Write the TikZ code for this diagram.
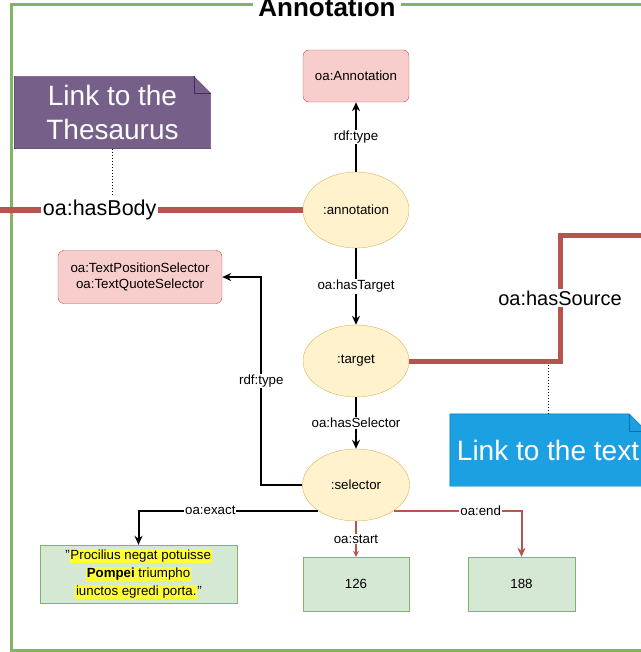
\documentclass[tikz,border=0pt]{standalone}
\usepackage{fontspec}
\setmainfont{Liberation Sans}
\usetikzlibrary{shapes.geometric,arrows.meta,backgrounds}

\definecolor{clsfill}{HTML}{F8CECC}
\definecolor{clsline}{HTML}{B85450}
\definecolor{resfill}{HTML}{FFF2CC}
\definecolor{resline}{HTML}{D6B656}
\definecolor{litfill}{HTML}{D5E8D4}
\definecolor{litline}{HTML}{82B366}
\definecolor{linkred}{HTML}{B85450}
\definecolor{thesfill}{HTML}{76608A}
\definecolor{thesline}{HTML}{432D57}
\definecolor{textfill}{HTML}{1BA1E2}
\definecolor{textline}{HTML}{006EAF}
\definecolor{hilite}{HTML}{FFFF33}
\setlength{\fboxsep}{0.8pt}

\begin{document}
\begin{tikzpicture}
  [x=1pt,y=-1pt,>={Stealth[length=9pt,width=8pt]},
   every node/.style={font=\fontsize{13.3}{16}\selectfont},
   cls/.style={draw=clsline, fill=clsfill, rounded corners=6pt, minimum width=106pt, minimum height=52pt, align=center},
   res/.style={ellipse, draw=resline, fill=resfill, minimum width=106pt, minimum height=72pt, inner sep=0pt},
   lit/.style={draw=litline, fill=litfill, minimum width=106pt, minimum height=54pt, align=center},
   lbl/.style={fill=white, inner sep=1pt},
   rel/.style={draw=black, line width=2pt, ->},
   redrel/.style={draw=linkred, line width=2pt, ->},
   link/.style={draw=linkred, line width=5pt},
   biglbl/.style={fill=white, inner sep=2pt},
   note/.style={text=white, minimum width=196pt, minimum height=72pt, align=center, font=\fontsize{28}{34}\selectfont}]
  \useasboundingbox (0,0) rectangle (640,652);

  % frame of the annotation
  \draw[litline, line width=3pt] (11,5) rectangle (660,650);
  \node[fill=white, inner xsep=5pt, inner ysep=1pt, font=\bfseries\fontsize{26}{30}\selectfont] (title) at (327,7) {Annotation};

  \node[cls] (anntype) at (356,76) {oa:Annotation};
  \node[res, minimum height=76pt] (ann) at (356,210) {:annotation};
  \node[res] (tgt) at (356,361) {:target};
  \node[res, minimum width=107pt] (sel) at (356,485) {:selector};
  \node[cls, minimum width=164pt, minimum height=53pt] (seltype) at (140,277) {oa:TextPositionSelector\\oa:TextQuoteSelector};

  \node[lit, minimum width=197pt, minimum height=58pt, font=\fontsize{13.3}{18}\selectfont] (quote) at (138.5,574)
    {"\colorbox{hilite}{Procilius negat potuisse}\\\colorbox{hilite}{\textbf{Pompei} triumpho}\\\colorbox{hilite}{iunctos egredi porta.}"};
  \node[lit] (startval) at (356,584) {126};
  \node[lit, minimum width=107pt] (endval) at (521.5,584) {188};

  \foreach \from/\to/\lab in {ann/anntype/rdf:type, ann/tgt/oa:hasTarget, tgt/sel/oa:hasSelector}
    \draw[rel] (\from) -- node[lbl] {\lab} (\to);

  \draw[rel] (sel.west) -- ++(-41,0) |- node[lbl, pos=.25] {rdf:type} (seltype.east);
  \draw[rel] (sel.south west) -| node[lbl, pos=.3] {oa:exact} (quote.north);
  \draw[redrel, line width=1.3pt, -{Stealth[length=6pt,width=6pt]}] (sel.south) -- node[lbl] {oa:start} (startval.north);
  \draw[redrel] (sel.south east) -| node[lbl, pos=.34] {oa:end} (endval.north);

  % links leaving the annotation
  \coordinate (bodyend) at (-5,210);
  \coordinate (srcbend) at (560,235);
  \coordinate (srcend) at (660,235);
  \coordinate (srcmid) at (548,363);
  \draw[link] (bodyend) -- node[biglbl, pos=.34, font=\fontsize{21.5}{24}\selectfont] (bodylbl) {oa:hasBody} (ann.west);
  \draw[link] (tgt.east) -| node[biglbl, pos=.75, font=\fontsize{20}{24}\selectfont] (srclbl) {oa:hasSource} (srcbend) -- (srcend);

  \node[note] (thes) at (112.5,112.5) {Link to the\\Thesaurus};
  \node[note] (textnote) at (548,450) {Link to the text};
  \begin{scope}[on background layer]
    \foreach \n/\fc/\lc in {thes/thesfill/thesline, textnote/textfill/textline} {
      \filldraw[fill=\fc, draw=\lc] (\n.north west) -- ([xshift=-17pt]\n.north east) -- ([yshift=-17pt]\n.north east) -- (\n.south east) -- (\n.south west) -- cycle;
      \draw[\lc] ([xshift=-17pt]\n.north east) |- ([yshift=-17pt]\n.north east);
    }
  \end{scope}
  \draw[dotted, line width=1pt] (thes.south) -- (thes.south |- bodylbl.north);
  \draw[dotted, line width=1pt] (textnote.north) -- (srcmid);
\end{tikzpicture}
\end{document}
